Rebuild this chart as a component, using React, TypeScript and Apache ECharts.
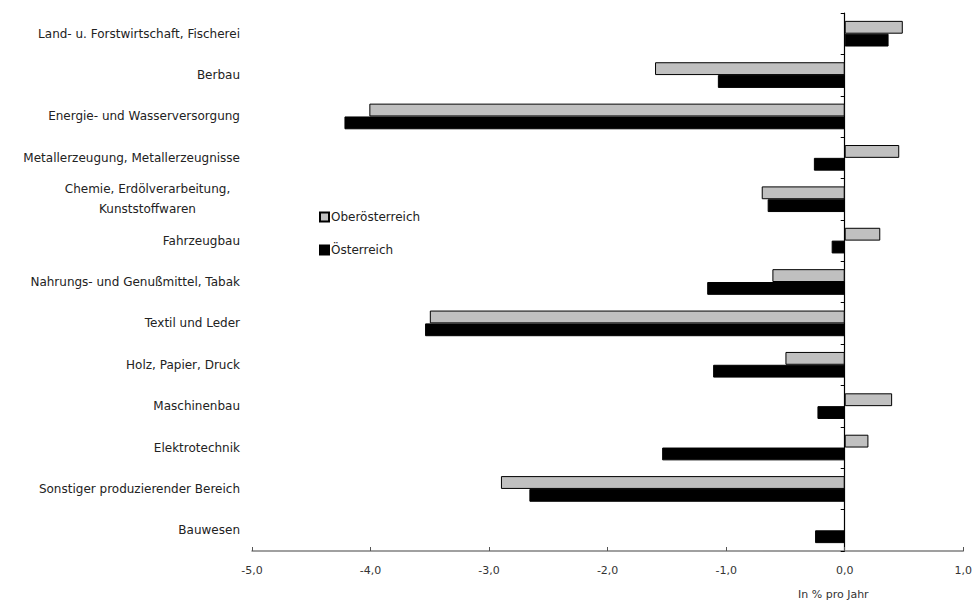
import React, { useEffect, useRef } from "react";
import * as echarts from "echarts";

const categories = [
  "Land- u. Forstwirtschaft, Fischerei",
  "Berbau",
  "Energie- und Wasserversorgung",
  "Metallerzeugung, Metallerzeugnisse",
  "Chemie, Erdölverarbeitung,\nKunststoffwaren",
  "Fahrzeugbau",
  "Nahrungs- und Genußmittel, Tabak",
  "Textil und Leder",
  "Holz, Papier, Druck",
  "Maschinenbau",
  "Elektrotechnik",
  "Sonstiger produzierender Bereich",
  "Bauwesen",
];

const oberoesterreich = [0.49, -1.6, -4.01, 0.46, -0.7, 0.3, -0.61, -3.5, -0.5, 0.4, 0.2, -2.9, null];
const oesterreich = [0.37, -1.07, -4.22, -0.26, -0.65, -0.11, -1.16, -3.54, -1.11, -0.23, -1.54, -2.66, -0.25];

const xTicks = { min: -5, max: 1, interval: 1 };
const axisName = "In % pro Jahr";

const FONT = "'DejaVu Sans', 'Liberation Sans', sans-serif";

export default function App() {
  const ref = useRef<HTMLDivElement>(null);
  useEffect(() => {
    document.body.style.margin = "0";
    const chart = echarts.init(ref.current!, null, { renderer: "svg" });
    chart.setOption({
      animation: false,
      backgroundColor: "#ffffff",
      textStyle: { fontFamily: FONT },
      grid: { left: 252, right: 10, top: 13, bottom: 52, containLabel: false },
      legend: {
        orient: "vertical",
        left: 314,
        top: 206,
        itemWidth: 9,
        itemHeight: 9,
        itemGap: 21,
        icon: "rect",
        textStyle: { fontFamily: FONT, fontSize: 12, color: "#222", padding: [0, 0, 0, -3] },
        data: ["Oberösterreich", "Österreich"],
      },
      xAxis: {
        type: "value",
        min: xTicks.min,
        max: xTicks.max,
        interval: xTicks.interval,
        axisLine: { show: true, onZero: false, lineStyle: { color: "#808080", width: 1.5 } },
        axisTick: { show: true, inside: true, length: 4, lineStyle: { color: "#555" } },
        splitLine: { show: false },
        axisLabel: {
          margin: 14,
          fontSize: 11,
          color: "#333",
          fontFamily: FONT,
          formatter: (v: number) => v.toFixed(1).replace(".", ","),
        },
      },
      yAxis: [
        {
          type: "category",
          data: categories,
          inverse: true,
          axisLine: { show: false, onZero: false },
          axisTick: { show: false },
          axisLabel: {
            margin: 12,
            fontSize: 12,
            color: "#222",
            fontFamily: FONT,
            lineHeight: 20,
            formatter: (v: string) => (v.indexOf("\n") >= 0 ? "{c|" + v + "}" : v),
            rich: {
              c: { width: 185, align: "center", fontSize: 12, lineHeight: 20, color: "#222", fontFamily: FONT },
            },
          },
        },
        {
          type: "category",
          data: categories,
          inverse: true,
          position: "left",
          axisLine: { show: true, onZero: true, lineStyle: { color: "#000", width: 1.2 } },
          axisTick: { show: true, inside: false, length: 4, lineStyle: { color: "#000" } },
          axisLabel: { show: false },
        },
      ],
      series: [
        {
          name: "Oberösterreich",
          type: "bar",
          yAxisIndex: 0,
          data: oberoesterreich,
          barGap: "0%",
          barCategoryGap: "38%",
          itemStyle: { color: "#c0c0c0", borderColor: "#000", borderWidth: 1 },
        },
        {
          name: "Österreich",
          type: "bar",
          yAxisIndex: 0,
          data: oesterreich,
          barGap: "0%",
          barCategoryGap: "38%",
          itemStyle: { color: "#000", borderColor: "#000", borderWidth: 1 },
        },
      ],
      graphic: [
        {
          type: "text",
          left: 798,
          top: 589,
          style: { text: axisName, fontSize: 11, fill: "#333", fontFamily: FONT },
        },
      ],
    });
    return () => chart.dispose();
  }, []);
  return <div ref={ref} style={{ width: 975, height: 603 }} />;
}
